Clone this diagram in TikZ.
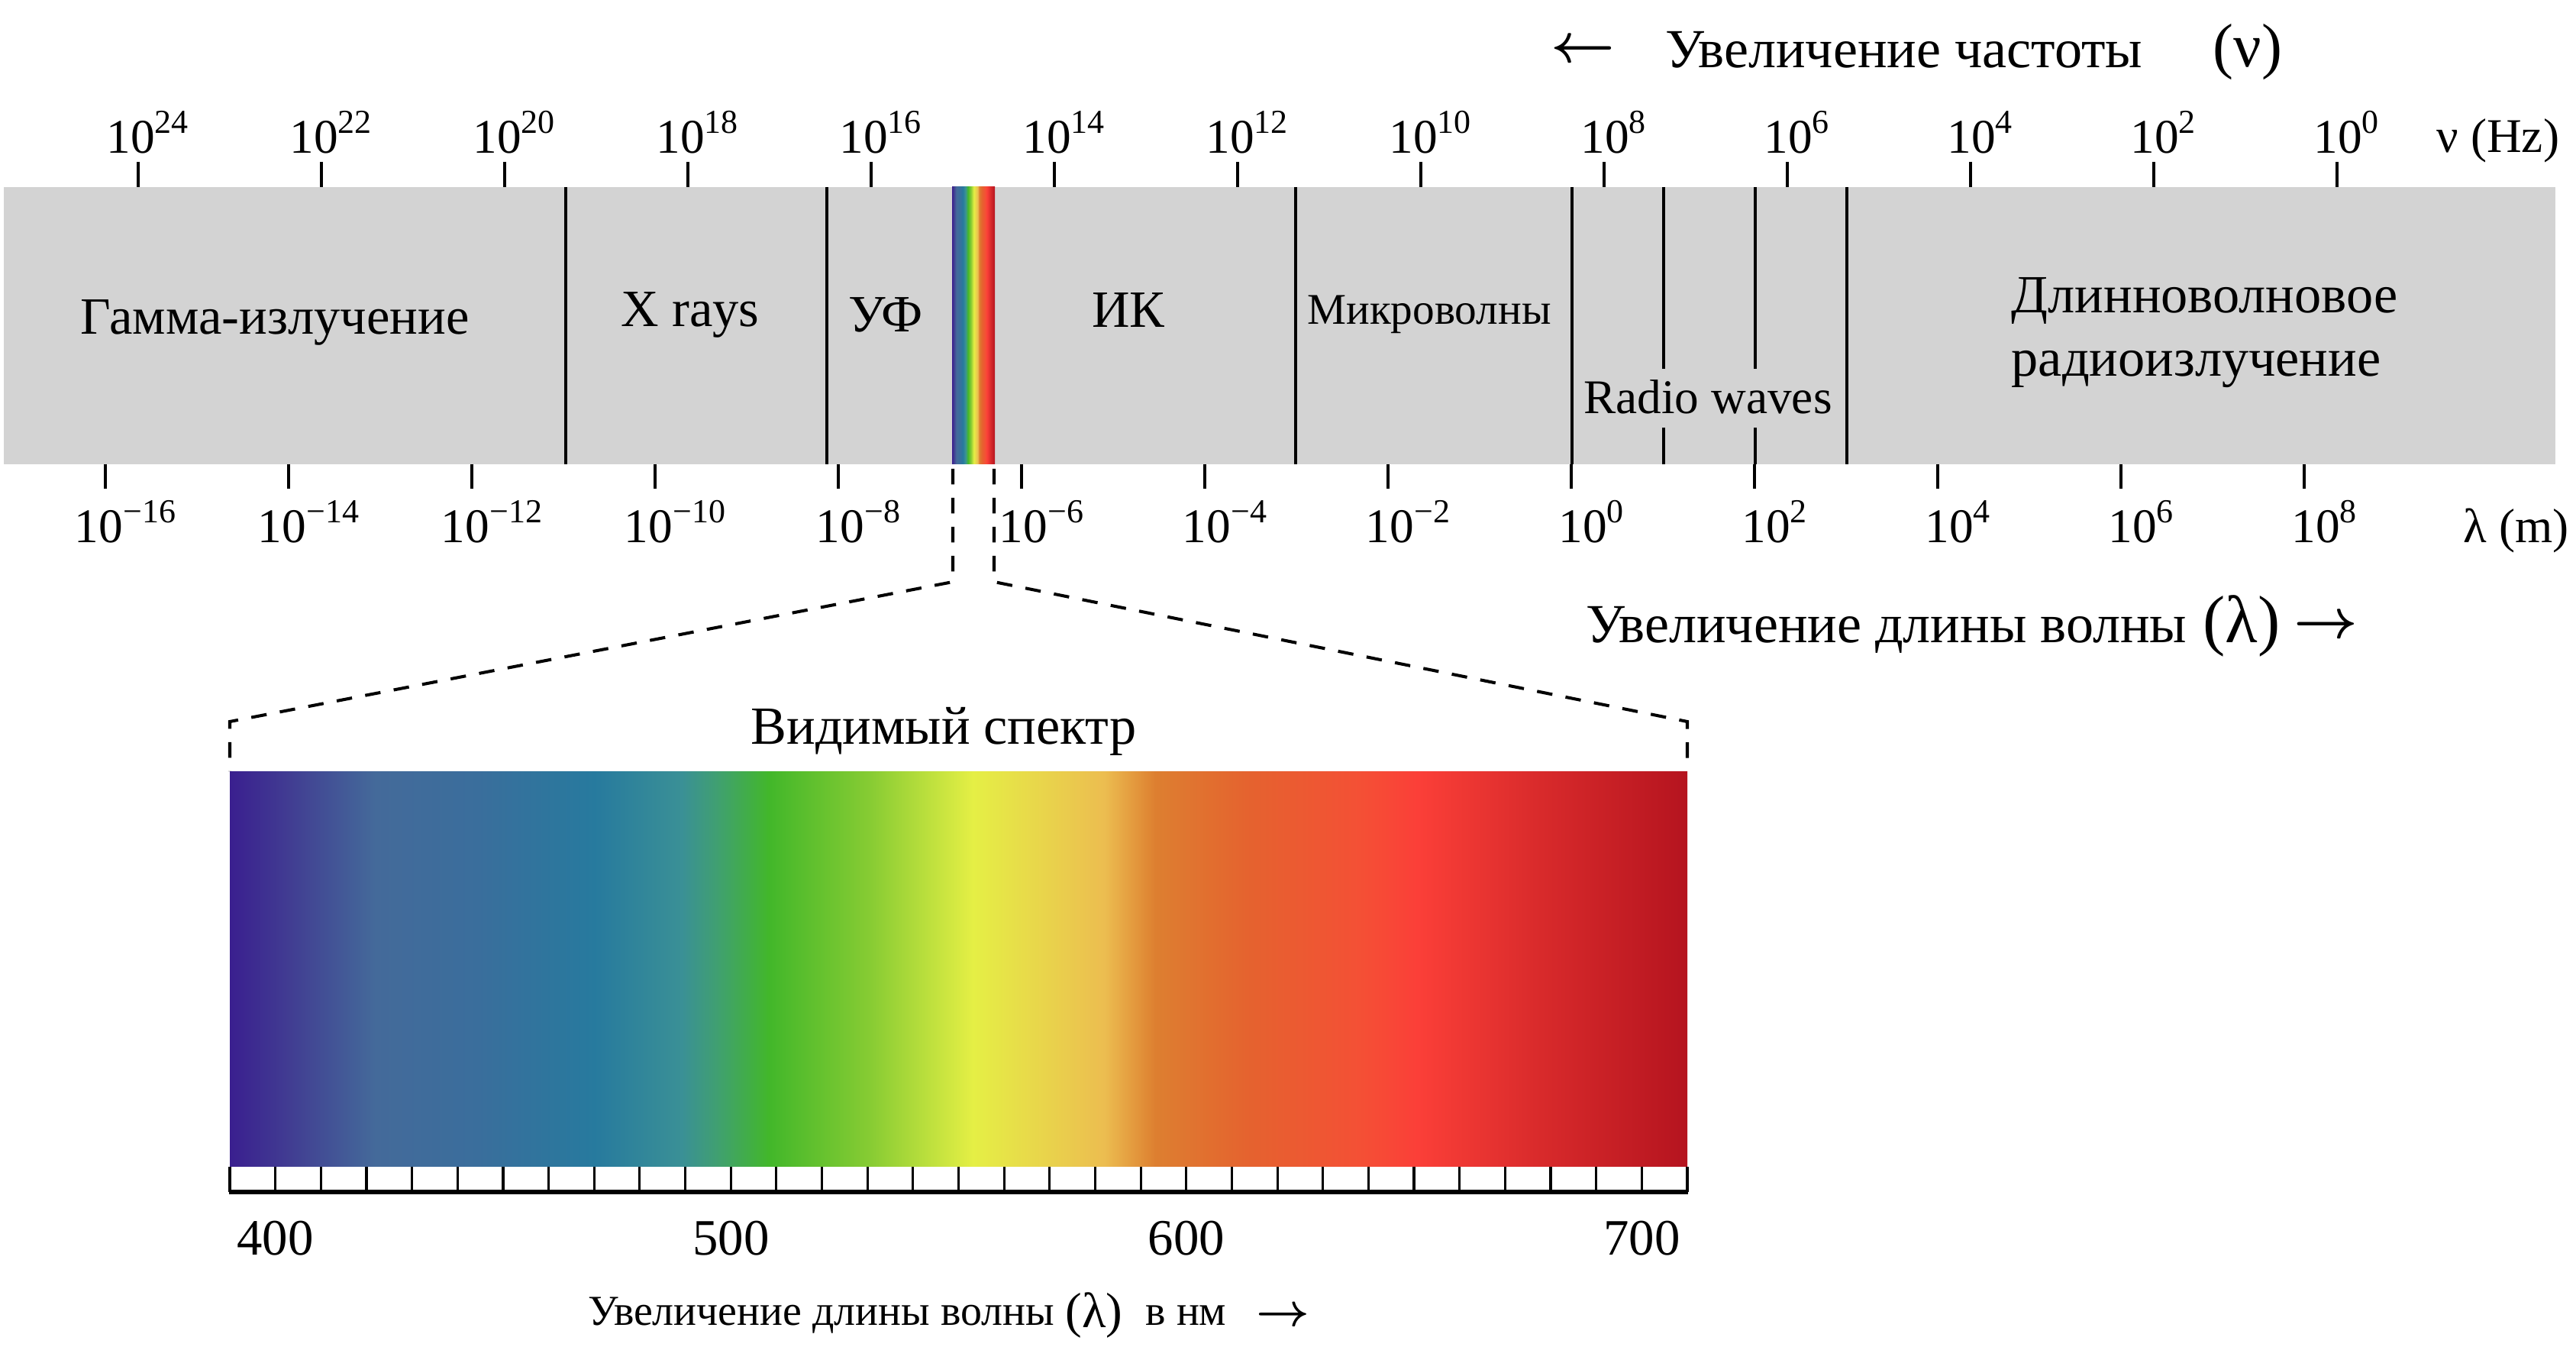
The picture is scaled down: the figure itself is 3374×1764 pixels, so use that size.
\documentclass[tikz,border=0pt]{standalone}
\usepackage{fontspec}
\setmainfont{Liberation Serif}
\newcommand\fsz[1]{\fontsize{#1}{#1}\selectfont}
\newcommand\tpow[1]{10\raisebox{0.42em}{\fsz{12.5}#1}}
\definecolor{bandgray}{HTML}{D3D3D3}
\definecolor{sa}{HTML}{3A1F8F}
\definecolor{sb}{HTML}{413C92}
\definecolor{sc}{HTML}{446A9A}
\definecolor{sd}{HTML}{3A6E9C}
\definecolor{se}{HTML}{277A9E}
\definecolor{sf}{HTML}{3A9096}
\definecolor{sg}{HTML}{40A070}
\definecolor{sh}{HTML}{42B72A}
\definecolor{si}{HTML}{88CC33}
\definecolor{sj}{HTML}{E5EF45}
\definecolor{sk}{HTML}{ECBD50}
\definecolor{sl}{HTML}{DD7F30}
\definecolor{sm}{HTML}{E5622F}
\definecolor{sn}{HTML}{F45035}
\definecolor{so}{HTML}{FB3F38}
\definecolor{sp}{HTML}{D82A2B}
\definecolor{sq}{HTML}{B5141F}
\pgfdeclarehorizontalshading{visspec}{100bp}{color(0bp)=(sa); color(25bp)=(sa); color(27bp)=(sb); color(30bp)=(sc); color(33.5bp)=(sd); color(37.5bp)=(se); color(40.5bp)=(sf); color(41.75bp)=(sg); color(43.5bp)=(sh); color(47bp)=(si); color(50.5bp)=(sj); color(55bp)=(sk); color(56.75bp)=(sl); color(60bp)=(sm); color(63.75bp)=(sn); color(65.75bp)=(so); color(70bp)=(sp); color(75bp)=(sq); color(100bp)=(sq)}
\tikzset{
  divider/.style={line width=1.4pt, black},
  tickmark/.style={line width=1.2pt, black},
  vtick/.style={line width=0.9pt, black},
  zoomdash/.style={line width=1.15pt, dash pattern=on 5.8pt off 5pt},
  toplab/.style={anchor=base, font=\fsz{18}, inner sep=0pt},
  botlab/.style={anchor=base, font=\fsz{18}, inner sep=0pt},
  bandlab/.style={anchor=base, inner sep=0pt},
}
\begin{document}
\begin{tikzpicture}[x=0.01cm,y=-0.01cm]
\useasboundingbox (0,0) rectangle (3374,1764);
% main band
\fill[bandgray] (5,245) rectangle (3347,608);
\shade[shading=visspec] (1247,245) rectangle (1303,608);
% dividers
\foreach \x in {741,1083,1697,2059,2419} \draw[divider] (\x,245) -- (\x,608);
\draw[divider] (2179,245) -- (2179,483) (2179,560) -- (2179,608);
\draw[divider] (2299,245) -- (2299,483) (2299,560) -- (2299,608);
% ticks
\foreach \x in {181,421,...,3061} \draw[tickmark] (\x,212) -- (\x,245);
\foreach \x in {138,378,...,3018} \draw[tickmark] (\x,608) -- (\x,640);
% tick labels
\foreach \e [count=\i from 0] in {24,22,20,18,16,14,12,10,8,6,4,2,0}
  \node[toplab] (t\i) at ({193+240*\i},201) {\tpow{\e}};
\foreach \e [count=\i from 0] in {−16,−14,−12,−10,−8,−6,−4,−2,0,2,4,6,8}
  \node[botlab] (b\i) at ({164+240*\i},711) {\tpow{\e}};
\node[anchor=base west, font=\fsz{18}, inner sep=0pt] (nuhz) at (3191,200) {ν (Hz)};
\node[anchor=base west, font=\fsz{18}, inner sep=0pt] (lamm) at (3226,711) {λ (m)};
% band labels
\node[bandlab, font=\fsz{19.5}] (gamma) at (360,438) {Гамма-излучение};
\node[bandlab, font=\fsz{19.5}] (xray) at (904,428) {X rays};
\node[bandlab, font=\fsz{19.5}] (uv) at (1160,435) {УФ};
\node[bandlab, font=\fsz{19.5}] (ir) at (1478,429) {ИК};
\node[bandlab, font=\fsz{16.3}] (micro) at (1872,425) {Микроволны};
\node[bandlab, font=\fsz{18}] (radio) at (2237,542) {Radio waves};
\node[bandlab, anchor=base west, font=\fsz{20}] (long1) at (2634,410) {Длинноволновое};
\node[bandlab, anchor=base west, font=\fsz{20}] (long2) at (2634,493) {радиоизлучение};
% frequency title
\node[anchor=base, inner sep=0pt, font={\fsz{22.5}\boldmath}] (larr) at (2073,82) {$\leftarrow$};
\node[anchor=base west, inner sep=0pt, font=\fsz{20.5}] (freq) at (2181,89) {Увеличение частоты};
\node[anchor=base, inner sep=0pt, font=\fsz{23}] (nu) at (2944,88) {(ν)};
% wavelength title
\node[anchor=base west, inner sep=0pt, font=\fsz{20.5}] (wave) at (2077,842) {Увеличение длины волны};
\node[anchor=base, inner sep=0pt, font=\fsz{25}] (lam) at (2936,841) {(λ)};
\node[anchor=base, inner sep=0pt, font={\fsz{21}\boldmath}] (rarr) at (3046,836) {$\rightarrow$};
% zoom dashed lines
\coordinate (dl0) at (1248,614);
\coordinate (dl1) at (1248,762);
\coordinate (dl2) at (301,945);
\coordinate (dl3) at (301,1010);
\coordinate (dr0) at (1302,614);
\coordinate (dr1) at (1302,762);
\coordinate (dr2) at (2210,945);
\coordinate (dr3) at (2210,1010);
\draw[zoomdash] (dl0) -- (dl1) -- (dl2) -- (dl3);
\draw[zoomdash] (dr0) -- (dr1) -- (dr2) -- (dr3);
\node[anchor=base, inner sep=0pt, font=\fsz{20}] (vis) at (1236,975) {Видимый спектр};
% visible spectrum
\shade[shading=visspec] (301,1010) rectangle (2210,1528);
\fill[white] (301,1528) rectangle (2210,1561);
\foreach \k in {0,...,32} \draw[vtick] ({301+59.656*\k},1528) -- ({301+59.656*\k},1561);
\draw[line width=1.6pt] (300,1561) -- (2211,1561);
\node[anchor=base, inner sep=0pt, font=\fsz{19}] (n400) at (360.7,1643) {400};
\node[anchor=base, inner sep=0pt, font=\fsz{19}] (n500) at (957.3,1643) {500};
\node[anchor=base, inner sep=0pt, font=\fsz{19}] (n600) at (1553.9,1643) {600};
\node[anchor=base, inner sep=0pt, font=\fsz{19}] (n700) at (2150.5,1643) {700};
\node[anchor=base west, inner sep=0pt, font=\fsz{15.9}] (wnm) at (770,1735) {Увеличение длины волны};
\node[anchor=base, inner sep=0pt, font=\fsz{18.5}] (wnl) at (1433,1738) {(λ)};
\node[anchor=base west, inner sep=0pt, font=\fsz{15.9}] (wnn) at (1500,1735) {в нм};
\node[anchor=base, inner sep=0pt, font={\fsz{16}\boldmath}] (wna) at (1680,1736) {$\rightarrow$};
\end{tikzpicture}
\end{document}
